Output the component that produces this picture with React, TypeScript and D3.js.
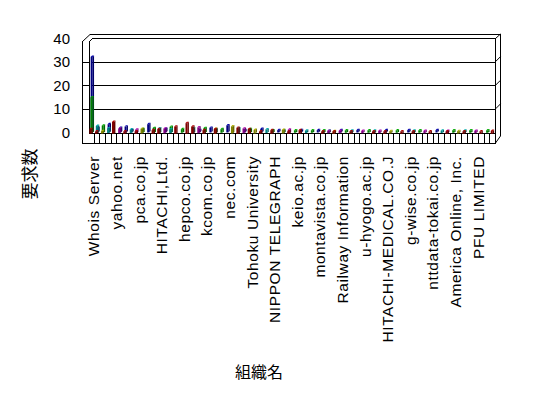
import React from "react";
import * as d3 from "d3";

const W = 548;
const H = 398;

// 72 organisations; only every 4th name is printed on the axis
const categoryCount = 72;
const tickLabels = [
  "Whois Server", "yahoo.net", "pca.co.jp", "HITACHI,Ltd.", "hepco.co.jp",
  "kcom.co.jp", "nec.com", "Tohoku University", "NIPPON TELEGRAPH",
  "keio.ac.jp", "montavista.co.jp", "Railway Information", "u-hyogo.ac.jp",
  "HITACHI-MEDICAL.CO.J", "g-wise.co.jp", "nttdata-tokai.co.jp",
  "America Online, Inc.", "PFU LIMITED",
];
const yTicks = [0, 10, 20, 30, 40];

// series, from back row to front row (3-D column, series in depth)
const seriesA = [32,2,0,3.5,0,2,2.5,1,0,0,3.5,0,0,1.5,0,0,0,0,0,1,0,2,0,0,3,0,0,1,0,0,1.5,0,0,1,0,0,0,1,0,0,1,0,0,0,1,0,0,1,0,0,0,0,1,0,0,0,1,0,0,0,0,1,0,0,0,0,0,0,0,0,0,0];
const seriesB = [15,0,3,0,0,0,0,0,0,1.5,0,2,0,0,2.5,0,1.5,0,0,0,2,0,0,1.5,0,0,0,0,1.5,0,0,0,1,0,0,0,1,0,0,1,0,1,0,0,0,1,0,0,0,1,0,0,0,0,1,0,0,0,1,0,0,0,0,0,1,0,0,1,0,0,1,0];
const seriesC = [0,3,0,2,0,0,0,1.5,0,0,0,0,2,0,1.5,0,0,0,2,0,0,0,1.5,0,0,0,2,0,0,0,0,1.5,0,0,1,0,0,0,1,0,0,0,1,0,0,0,1,0,0,0,1,0,0,0,0,0,0,1,0,0,0,0,1,0,0,0,1,0,0,0,0,0];
const seriesD = [0,0,0,0,0,2,0,0,1.5,0,0,0,0,2,0,0,0,0,0,2.5,0,0,0,0,0,0,0,2,0,0,0,0,0,0,0,1.5,0,0,0,0,0,0,1,0,1,0,0,0,1,0,0,1,0,0,0,0,0,0,0,1,0,0,0,1,0,0,0,0,1,0,0,0];
const seriesE = [0,0,1,0,0,0,0,0,0,2,0,0,0,0,0,0,0,0,0,0,0,0,2,0,0,3,0,0,0,1.5,0,0,0,0,1.5,0,0,0,0,0,0,0,0,1,0,0,0,0,0,0,0,0,0,1,0,0,0,0,0,0,0,0,0,0,0,1,0,0,0,0,0,0];
const seriesF = [2,1,0,0,5,0,1,0,1,0,0,1.5,2,0,0,3,0,4.5,3,0,1.5,0,2,0,0,0,2.5,0,2,0,1,0,1.5,0,0,1,0,1.5,0,0,0,1,0,1,0,0,1,0,0,0,1,0,1,0,0,1,0,1,0,0,1,0,0,1,0,0,1,0,0,1,0,1.2];

const series = [seriesA, seriesB, seriesC, seriesD, seriesE, seriesF];
const colors = ["#000080", "#008000", "#008080", "#800080", "#808000", "#800000"];

export default function App() {
  const left = 88, right = 495;
  const x = d3.scaleBand<number>().domain(d3.range(categoryCount)).range([left, right]).padding(0);
  const y = d3.scaleLinear().domain([0, 40]).range([132.5, 38]);
  const bw = x.bandwidth();
  const font = "'Liberation Sans', Arial, sans-serif";
  const cjk = "'Noto Sans CJK JP', sans-serif";

  const bars: React.ReactNode[] = [];
  series.forEach((vals, j) => {
    const c = d3.color(colors[j])!;
    const light = c.brighter(0.9).formatHex();
    const dark = c.darker(0.6).formatHex();
    vals.forEach((v, i) => {
      if (!v) return;
      const x0 = (x(i) as number) + 1.4 + (5 - j) * 0.25;
      const w = 2;
      const yb = y(0) + j * 0.25;
      const yt = y(v) + j * 0.25;
      const d = 1.4;
      bars.push(
        <g key={`${j}-${i}`}>
          <polygon points={`${x0 + w},${yt} ${x0 + w + d},${yt - d} ${x0 + w + d},${yb - d} ${x0 + w},${yb}`} fill={dark} />
          <polygon points={`${x0},${yt} ${x0 + w},${yt} ${x0 + w + d},${yt - d} ${x0 + d},${yt - d}`} fill={light} />
          <rect x={x0} y={yt} width={w} height={yb - yt} fill={colors[j]} />
        </g>
      );
    });
  });

  const grid = [10, 20, 30];
  const floorTop = 133, floorBot = 143;

  return (
    <svg width={W} height={H} style={{ position: "absolute", left: 0, top: 0, background: "#fff" }}>
      {/* back wall and grid */}
      <g stroke="#000" strokeWidth={1} fill="none" shapeRendering="crispEdges">
        <line x1={92} x2={495} y1={38.5} y2={38.5} />
        {grid.map((g) => (
          <line key={g} x1={92} x2={495} y1={Math.round(y(g)) + 0.5} y2={Math.round(y(g)) + 0.5} />
        ))}
        {grid.map((g) => (
          <line key={"t" + g} x1={82} x2={89} y1={Math.round(y(g)) + 0.5} y2={Math.round(y(g)) + 0.5} />
        ))}
        <line x1={89.5} x2={89.5} y1={41} y2={floorTop} />
        <line x1={82.5} x2={82.5} y1={41} y2={floorBot} />
        <line x1={90} x2={501} y1={34.5} y2={34.5} />
        <line x1={495.5} x2={495.5} y1={38} y2={floorBot} />
        <line x1={500.5} x2={500.5} y1={34} y2={136} />
        <line x1={89} x2={496} y1={floorTop + 0.5} y2={floorTop + 0.5} />
        <line x1={82} x2={496} y1={floorBot + 0.5} y2={floorBot + 0.5} />
        {d3.range(1, categoryCount).map((k) => {
          const xx = Math.round(left + k * bw) + 0.5;
          return <line key={"c" + k} x1={xx} x2={xx} y1={floorTop} y2={floorBot} />;
        })}
      </g>
      <g stroke="#000" strokeWidth={1} fill="none">
        <line x1={82.5} y1={41.5} x2={90} y2={34.5} />
        <line x1={89.5} y1={41.5} x2={92.5} y2={38.5} />
        <line x1={495.5} y1={38.5} x2={500.5} y2={34} />
        {grid.map((g) => (
          <line key={"s" + g} x1={495.5} y1={y(g)} x2={500.5} y2={y(g) - 5} />
        ))}
        <line x1={495.5} y1={floorBot} x2={500.5} y2={136} />
      </g>
      {bars}
      {/* y tick labels */}
      {yTicks.map((t) => (
        <text key={t} x={70} y={y(t)} textAnchor="end" dominantBaseline="central" fontFamily={font} fontSize={15}>
          {t}
        </text>
      ))}
      {/* category labels */}
      {tickLabels.map((lab, k) => {
        const i = k * 4;
        const cx = (x(i) as number) + bw / 2 + 3;
        return (
          <text key={lab} transform={`translate(${cx},156) rotate(-90)`} textAnchor="end" dominantBaseline="central" fontFamily={font} fontSize={15.5} letterSpacing={0.6}>
            {lab}
          </text>
        );
      })}
      <text transform="translate(28,174) rotate(-90)" textAnchor="middle" dominantBaseline="central" fontFamily={cjk} fontSize={17}>
        要求数
      </text>
      <text x={259} y={371} textAnchor="middle" dominantBaseline="central" fontFamily={cjk} fontSize={16}>
        組織名
      </text>
    </svg>
  );
}
